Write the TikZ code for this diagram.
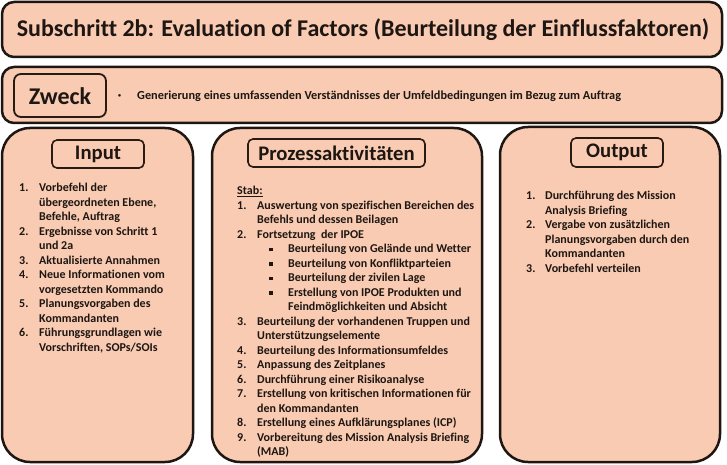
\documentclass[tikz,border=0pt]{standalone}
\usepackage{fontspec}
\setmainfont{Carlito}[RawFeature={-liga}]
\definecolor{boxfill}{HTML}{F8CBB2}
\definecolor{ink}{HTML}{1E1612}
\definecolor{hdrink}{HTML}{2A1A14}
\tikzset{
  x=1pt,y=-1pt,
  bigbox/.style={draw=ink,line width=2.5pt,fill=boxfill},
  hdrbox/.style={draw=hdrink,line width=1.6pt,fill=boxfill},
  txt/.style={inner sep=0pt,text=ink,font=\bfseries},
  hdrtxt/.style={txt,font=\bfseries\fontsize{20.7}{24}\selectfont},
  listtxt/.style={txt,anchor=north west,align=left,font=\bfseries\fontsize{12}{14.5}\selectfont},
}
\newcommand{\nm}[1]{\makebox[20pt][l]{#1}}
\newcommand{\ind}{\hspace*{20pt}}
\newcommand{\nmo}[1]{\makebox[19pt][l]{#1}}
\newcommand{\indo}{\hspace*{19pt}}
\newcommand{\bul}{\hspace*{32pt}\makebox[19pt][l]{\raisebox{1.5pt}{\rule{3.5pt}{3.5pt}}}}
\newcommand{\indb}{\hspace*{51pt}}
\begin{document}
\begin{tikzpicture}
\useasboundingbox (0,0) rectangle (727,465);
% title
\draw[bigbox,rounded corners=12pt] (2,2) rectangle (722,57);
\node[txt,font=\bfseries\fontsize{24}{28}\selectfont] (title) at (363,30) {Subschritt 2b: Evaluation of Factors (Beurteilung der Einflussfaktoren)};
% zweck row
\draw[bigbox,rounded corners=12pt] (2,67) rectangle (722,123);
\draw[hdrbox,line width=1.8pt,rounded corners=7pt] (14,74) rectangle (106,117);
\node[txt,font=\bfseries\fontsize{24}{28}\selectfont] (zweck) at (60,96) {Zweck};
\node[txt,font=\bfseries\fontsize{6}{8}\selectfont,anchor=west] (zbul) at (118,96) {\textbullet};
\node[txt,font=\bfseries\fontsize{12.3}{14}\selectfont,anchor=west] (zweckt) at (137,96.5) {Generierung eines umfassenden Verständnisses der Umfeldbedingungen im Bezug zum Auftrag};
% columns
\draw[bigbox,rounded corners=28pt] (2,128) rectangle (193,462);
\draw[bigbox,rounded corners=28pt] (212,128) rectangle (482,462);
\draw[bigbox,rounded corners=28pt] (500,127) rectangle (720,462);
% headers
\draw[hdrbox,rounded corners=5pt] (52,140) rectangle (144,168);
\node[hdrtxt] (input) at (98,154) {Input};
\draw[hdrbox,rounded corners=5pt] (248,139) rectangle (425,167);
\node[hdrtxt] (proz) at (336.5,153) {Prozessaktivitäten};
\draw[hdrbox,rounded corners=5pt] (571,138) rectangle (663,167);
\node[hdrtxt] (output) at (617,152.5) {Output};
% input list
\node[listtxt] (inlist) at (19,183) {%
\nm{1.}Vorbefehl der\\
\ind übergeordneten Ebene,\\
\ind Befehle, Auftrag\\
\nm{2.}Ergebnisse von Schritt 1\\
\ind und 2a\\
\nm{3.}Aktualisierte Annahmen\\
\nm{4.}Neue Informationen vom\\
\ind vorgesetzten Kommando\\
\nm{5.}Planungsvorgaben des\\
\ind Kommandanten\\
\nm{6.}Führungsgrundlagen wie\\
\ind Vorschriften, SOPs/SOIs};
% process list
\node[listtxt] (prlist) at (237,186) {%
\underline{Stab:}\\
\nm{1.}Auswertung von spezifischen Bereichen des\\
\ind Befehls und dessen Beilagen\\
\nm{2.}Fortsetzung\ \ der IPOE\\
\bul Beurteilung von Gelände und Wetter\\
\bul Beurteilung von Konfliktparteien\\
\bul Beurteilung der zivilen Lage\\
\bul Erstellung von IPOE Produkten und\\
\indb Feindmöglichkeiten und Absicht\\
\nm{3.}Beurteilung der vorhandenen Truppen und\\
\ind Unterstützungselemente\\
\nm{4.}Beurteilung des Informationsumfeldes\\
\nm{5.}Anpassung des Zeitplanes\\
\nm{6.}Durchführung einer Risikoanalyse\\
\nm{7.}Erstellung von kritischen Informationen für\\
\ind den Kommandanten\\
\nm{8.}Erstellung eines Aufklärungsplanes (ICP)\\
\nm{9.}Vorbereitung des Mission Analysis Briefing\\
\ind (MAB)};
% output list
\node[listtxt] (outlist) at (526,191) {%
\nmo{1.}Durchführung des Mission\\
\indo Analysis Briefing\\
\nmo{2.}Vergabe von zusätzlichen\\
\indo Planungsvorgaben durch den\\
\indo Kommandanten\\
\nmo{3.}Vorbefehl verteilen};
\end{tikzpicture}
\end{document}
